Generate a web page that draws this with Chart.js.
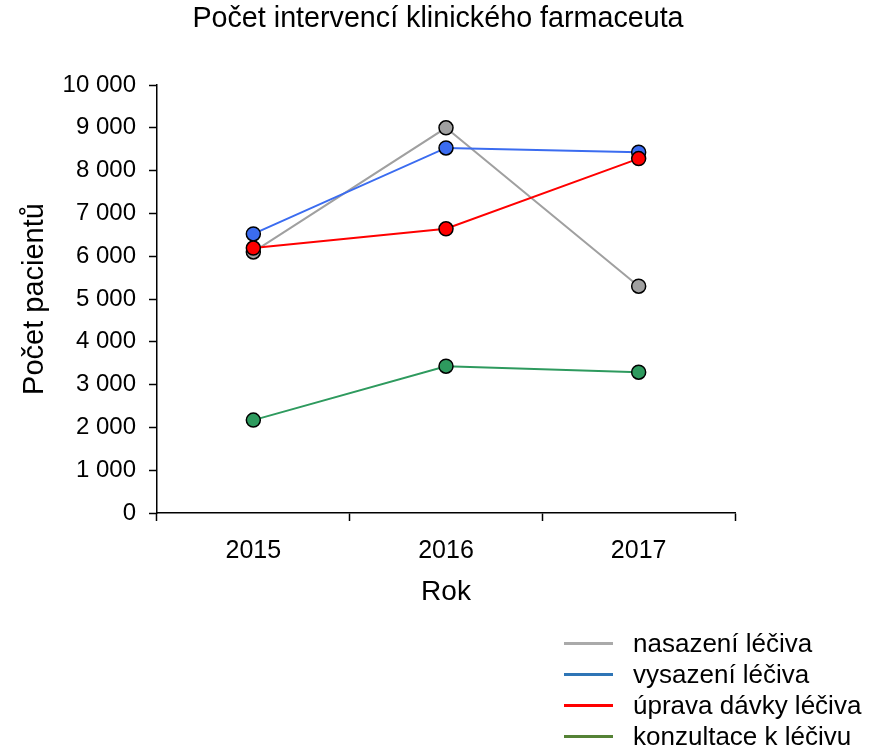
<!DOCTYPE html>
<html>
<head>
<meta charset="utf-8">
<script src="https://cdn.jsdelivr.net/npm/chart.js@4/dist/chart.umd.min.js"></script>
<style>
  html, body { margin: 0; padding: 0; background: #fff; }
  .wrap { position: relative; width: 870px; height: 752px; }
  #legend { position: absolute; left: 564px; top: 628px; font-family: Arial, "Liberation Sans", sans-serif; font-size: 26px; color: #000; }
  .leg-row { display: flex; align-items: center; height: 31px; line-height: 31px; white-space: nowrap; }
  .leg-line { width: 49px; height: 3px; margin-right: 20px; flex: none; }
</style>
</head>
<body>
<div class="wrap">
  <canvas id="chart" width="870" height="752"></canvas>
  <div id="legend"></div>
</div>
<script>
const chartTitle = 'Počet intervencí klinického farmaceuta';
const years = ['2015', '2016', '2017'];
const seriesNames = ['nasazení léčiva', 'vysazení léčiva', 'úprava dávky léčiva', 'konzultace k léčivu'];
const nasazeni = [6100, 9000, 5300];
const vysazeni = [6520, 8530, 8430];
const upravaDavky = [6190, 6640, 8280];
const konzultace = [2170, 3430, 3290];
const yTicks = [0, 1000, 2000, 3000, 4000, 5000, 6000, 7000, 8000, 9000, 10000];

const lineColors = ['#a0a0a0', '#3b6cf0', '#ff0000', '#2e9a5e'];
const legendColors = ['#aaaaaa', '#2e75b6', '#ff0000', '#548235'];
const font = 'Arial, "Liberation Sans", sans-serif';

const fmt = v => String(v).replace(/\B(?=(\d{3})+(?!\d))/g, ' ');

const makeSet = (i, data, order) => ({
    label: seriesNames[i],
    data: data,
    borderColor: lineColors[i],
    backgroundColor: lineColors[i],
    borderWidth: 2,
    pointRadius: 7,
    pointBorderColor: '#000',
    pointBorderWidth: 1.5,
    pointBackgroundColor: lineColors[i],
    tension: 0,
    order: order
});

// title sits a bit left of the plot centre in the original, so draw it by hand
const titlePlugin = {
    id: 'topTitle',
    afterDraw(chart) {
        const ctx = chart.ctx;
        ctx.save();
        ctx.font = '28.7px ' + font;
        ctx.fillStyle = '#000';
        ctx.textAlign = 'center';
        ctx.textBaseline = 'middle';
        ctx.fillText(chartTitle, 438, 19);
        ctx.restore();
    }
};

new Chart(document.getElementById('chart'), {
    type: 'line',
    data: {
        labels: years,
        datasets: [
            makeSet(0, nasazeni, 4),
            makeSet(1, vysazeni, 3),
            makeSet(2, upravaDavky, 2),
            makeSet(3, konzultace, 1)
        ]
    },
    options: {
        responsive: false,
        animation: false,
        layout: { padding: { top: 85, right: 135, bottom: 752 - 513 - 100, left: 16 } },
        plugins: {
            legend: { display: false },
            tooltip: { enabled: false },
            title: { display: false }
        },
        scales: {
            x: {
                offset: true,
                grid: { offset: true, drawOnChartArea: false, drawTicks: true, tickLength: 8, tickColor: '#000', tickWidth: 1.5 },
                border: { display: true, color: '#000', width: 1.5 },
                ticks: { color: '#000', font: { family: font, size: 25 }, padding: 15 },
                title: { display: true, text: 'Rok', color: '#000', font: { family: font, size: 28 }, padding: { top: 8 } },
                afterFit: s => { s.height = 100; }
            },
            y: {
                min: 0,
                max: 10000,
                afterBuildTicks: s => { s.ticks = yTicks.map(v => ({ value: v })); },
                grid: { drawOnChartArea: false, drawTicks: true, tickLength: 8, tickColor: '#000', tickWidth: 1.5 },
                border: { display: true, color: '#000', width: 1.5 },
                ticks: { color: '#000', font: { family: font, size: 24 }, padding: 13, callback: v => fmt(v) },
                title: { display: true, text: 'Počet pacientů', color: '#000', font: { family: font, size: 29 }, padding: { top: 2, bottom: 8 } },
                afterFit: s => { s.width = 157 - 16; }
            }
        }
    },
    plugins: [titlePlugin]
});

const legend = document.getElementById('legend');
seriesNames.forEach((name, i) => {
    const row = document.createElement('div');
    row.className = 'leg-row';
    row.innerHTML = `<span class="leg-line" style="background:${legendColors[i]}"></span><span>${name}</span>`;
    legend.appendChild(row);
});
</script>
</body>
</html>
